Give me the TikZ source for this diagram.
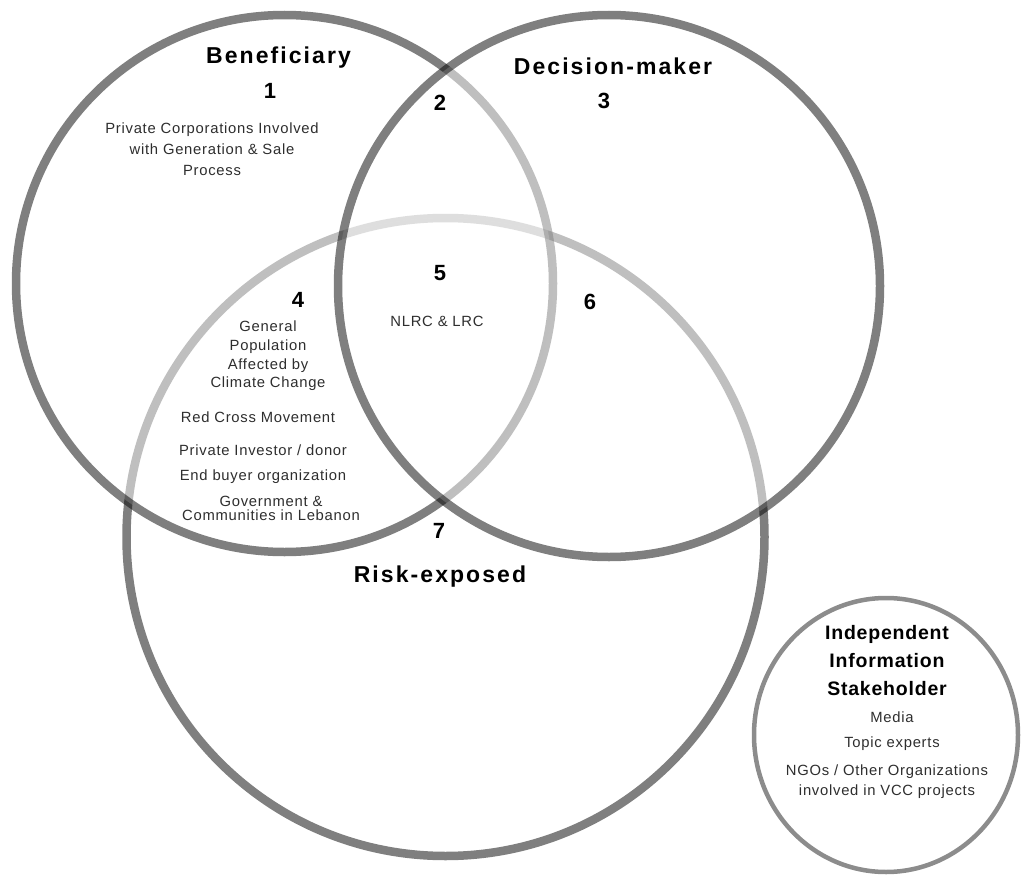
\documentclass[tikz,border=0pt]{standalone}
\usepackage{fontspec}
\setmainfont{Liberation Sans}[LetterSpace=5]
\newfontfamily\titlefam{Liberation Sans}[LetterSpace=9]
\newfontfamily\subtitlefam{Liberation Sans}[LetterSpace=4]
\usetikzlibrary{shapes.geometric}

\begin{document}
\begin{tikzpicture}[x=1pt,y=-1pt,
  ring/.style={circle, inner sep=0pt, line width=8.5pt,
    draw=black, draw opacity=0.5, fill=white, fill opacity=0.5},
  inforing/.style={ellipse, inner sep=0pt, line width=4.5pt, draw=black!45},
  title/.style={font=\titlefam\bfseries\fontsize{23}{26}\selectfont, text=black},
  subtitle/.style={font=\subtitlefam\bfseries\fontsize{19.5}{28}\selectfont, text=black, align=center},
  num/.style={font=\bfseries\fontsize{22}{24}\selectfont, text=black},
  lbl/.style={font=\fontsize{14.8}{#1}\selectfont, text=black!82, align=center},
  lbl/.default=18
]
\useasboundingbox (0,0) rectangle (1021,875);

% the three overlapping sets (drawing order gives the lighter inner arcs)
\node[ring, minimum size=638pt] (risk) at (445.5,537) {};
\node[ring, minimum size=537pt] (benef) at (284.5,283.5) {};
\node[ring, minimum size=542pt] (decide) at (609,286) {};

% independent information stakeholder
\node[inforing, minimum width=264pt, minimum height=274pt] (indep) at (886,735) {};

% set titles and region numbers
\node[title] (tBenef) at (278.5,58) {Beneficiary};
\node[title] (tDecide) at (613,66) {Decision-maker};
\node[title] (tRisk) at (440,577) {Risk-exposed};

\node[num] (n1) at (270,91) {1};
\node[num] (n2) at (440,103) {2};
\node[num] (n3) at (604,101) {3};
\node[num] (n4) at (298,300) {4};
\node[num] (n5) at (440,273) {5};
\node[num] (n6) at (590,302) {6};
\node[num] (n7) at (439,531) {7};

% region contents
\node[lbl=21] (r1) at (212,149) {Private Corporations Involved\\with Generation \& Sale\\Process};
\node[lbl] (r5) at (437,321) {NLRC \& LRC};
\node[lbl=18.7] (r4a) at (268,356) {General\\Population\\Affected by\\Climate Change};
\node[lbl] (r4b) at (258,417) {Red Cross Movement};
\node[lbl] (r4c) at (263,450) {Private Investor / donor};
\node[lbl] (r4d) at (263,477) {End buyer organization};
\node[lbl=14] (r4e) at (271,508) {Government \&\\Communities in Lebanon};

% contents of the independent circle
\node[subtitle] (tIndep) at (887,661) {Independent\\Information\\Stakeholder};
\node[lbl] (i1) at (892,717) {Media};
\node[lbl] (i2) at (892,744) {Topic experts};
\node[lbl=20] (i3) at (887,782) {NGOs / Other Organizations\\involved in VCC projects};
\end{tikzpicture}
\end{document}
